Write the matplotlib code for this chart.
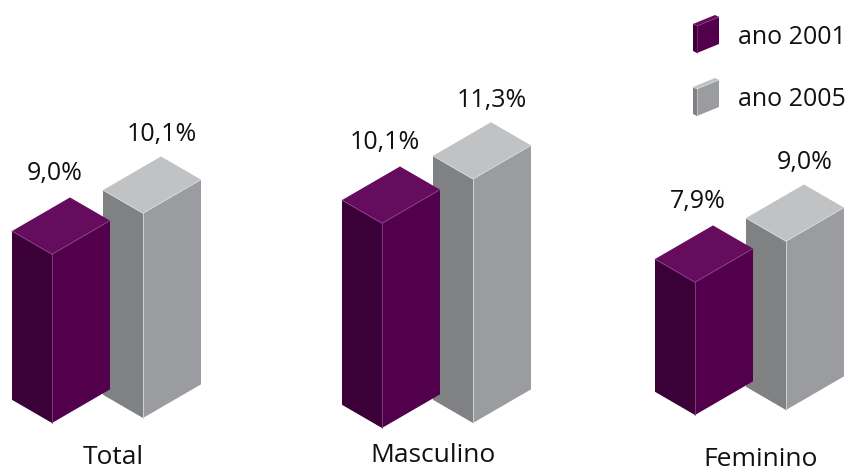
import numpy as np
import matplotlib
matplotlib.use('Agg')
import matplotlib.pyplot as plt
from matplotlib.patches import Polygon

plt.rcParams['font.family'] = ['Open Sans', 'DejaVu Sans']

categories = ['Total', 'Masculino', 'Feminino']
values_2001 = [9.0, 10.1, 7.9]
values_2005 = [10.1, 11.3, 9.0]
series_labels = ['ano 2001', 'ano 2005']

# cores das faces: (esquerda, frente, topo, aresta)
purple = ('#3b0037', '#52004b', '#650c5f', '#8c3f86')
gray = ('#808183', '#9b9c9f', '#c1c2c4', '#d8d9da')

# escala vertical (px por ponto percentual) e valor na base das barras
px_per_pct = 32.7
base_pct = 3.84

# canto frontal inferior da barra de 2001 em cada grupo
front_x = [52, 382, 695]
front_y = [423, 428, 415]
gray_shift = (91, -5)
cat_x = [113, 433, 761]
cat_y = [457, 455, 460]


def fmt(v):
    return f"{v:.1f}".replace('.', ',') + '%'


def draw_box(ax, x, y, h, L, R, sl, sr, cols, lw=0.6):
    c_left, c_front, c_top, c_edge = cols
    F = np.array([x, y])
    Lb = F + [-L, -sl * L]
    Rb = F + [R, -sr * R]
    up = np.array([0, -h])
    Ft, Lt, Rt = F + up, Lb + up, Rb + up
    Bt = Lt + Rt - Ft
    ax.add_patch(Polygon([Lb, F, Ft, Lt], closed=True, fc=c_left, ec='none'))
    ax.add_patch(Polygon([F, Rb, Rt, Ft], closed=True, fc=c_front, ec='none'))
    ax.add_patch(Polygon([Lt, Ft, Rt, Bt], closed=True, fc=c_top, ec='none'))
    # arestas claras na frente
    ax.plot([F[0], Ft[0]], [F[1], Ft[1]], color=c_edge, lw=lw)
    ax.plot([Lt[0], Ft[0], Rt[0]], [Lt[1], Ft[1], Rt[1]], color=c_edge, lw=lw)
    return Bt


fig = plt.figure(figsize=(8.53, 4.72), dpi=100)
ax = fig.add_axes([0, 0, 1, 1])
ax.set_xlim(0, 853)
ax.set_ylim(472, 0)
ax.axis('off')

for i, cat in enumerate(categories):
    x0, y0 = front_x[i], front_y[i]
    # 2005 fica atrás, desenha primeiro
    h5 = px_per_pct * (values_2005[i] - base_pct)
    gx, gy = x0 + gray_shift[0], y0 + gray_shift[1]
    top5 = draw_box(ax, gx, gy, h5, 40, 58, 0.58, 0.58, gray)
    h1 = px_per_pct * (values_2001[i] - base_pct)
    top1 = draw_box(ax, x0, y0, h1, 40, 58, 0.58, 0.58, purple)

    ax.text(x0 + 3, top1[1] - 24, fmt(values_2001[i]), fontsize=18,
            ha='center', va='center', color='#111111')
    ax.text(gx + 19, top5[1] - 22, fmt(values_2005[i]), fontsize=18,
            ha='center', va='center', color='#111111')
    ax.text(cat_x[i], cat_y[i], cat, fontsize=19, ha='center', va='center',
            color='#111111')

# legenda
leg_y = [53, 116]
for j, (lab, cols) in enumerate(zip(series_labels, [purple, gray])):
    draw_box(ax, 697, leg_y[j], 27, 4, 22, 0.5, 0.41, cols, lw=0.4)
    ax.text(738, leg_y[j] - 16, lab, fontsize=18, ha='left', va='center',
            color='#111111')

fig.savefig('out.png', dpi=100)
